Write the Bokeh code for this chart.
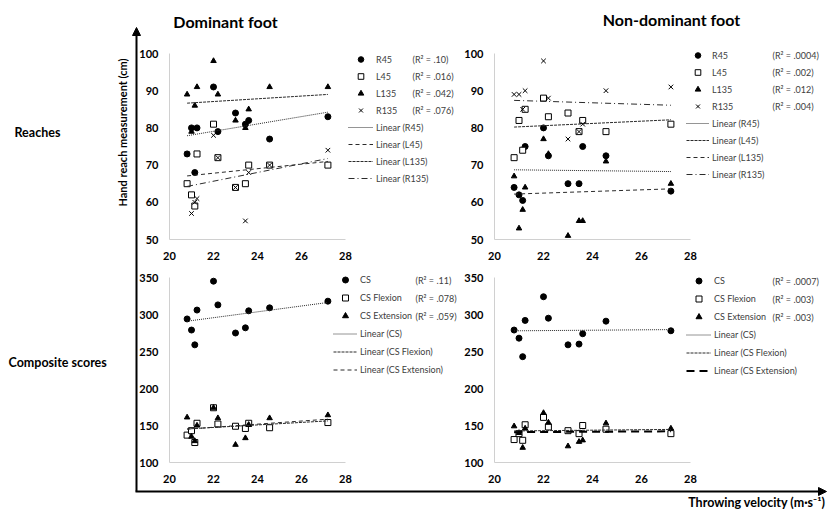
import numpy as np
from bokeh.plotting import figure
from bokeh.models import Range1d, Legend, LegendItem, Arrow, NormalHead, Label
from bokeh.core.properties import value
from bokeh.embed import file_html
from bokeh.resources import INLINE

# ---------------- data ----------------
velocity = [20.8, 21.0, 21.15, 21.25, 22.0, 22.2, 23.0, 23.45, 23.6, 24.55, 27.2]

dom_R45 = [73, 80, 68, 80, 91, 79, 84, 81, 82, 77, 83]
dom_L45 = [65, 62, 59, 73, 81, 72, 64, 65, 70, 70, 70]
dom_L135 = [89, 79, 86, 91, 98, 89, 82, 80, 85, 91, 91]
dom_R135 = [73, 57, 60, 61, 78, 72, 64, 55, 68, 70, 74]

nd_R45 = [64, 62, 60.5, 75, 80, 72.5, 65, 65, 75, 72.5, 63]
nd_L45 = [72, 82, 74, 85, 88, 83, 84, 79, 82, 79, 81]
nd_L135 = [67, 53, 58, 64, 77, 73, 51, 55, 55, 71, 65]
nd_R135 = [89, 89, 85, 90, 98, 88, 77, 79, 81, 90, 91]

dom_CS = [294, 279, 259, 306, 345, 313, 275, 282, 305, 309, 318]
dom_CSF = [137, 143, 127, 153, 174, 152, 149, 146, 153, 147, 154]
dom_CSE = [161, 135, 129, 150, 174, 160, 124, 133, 151, 160, 164]

nd_CS = [279, 268, 243, 292, 324, 295, 259, 260, 274, 291, 278]
nd_CSF = [131, 139, 130, 151, 161, 148, 143, 139, 150, 145, 139]
nd_CSE = [149, 140, 120, 146, 167, 154, 122, 128, 130, 153, 146]

reach_ticks = [50, 60, 70, 80, 90, 100]
cs_ticks = [100, 150, 200, 250, 300, 350]
vel_ticks = [20, 22, 24, 26, 28]

r2_dom_reach = ["(R\u00b2 = .10)", "(R\u00b2 = .016)", "(R\u00b2 = .042)", "(R\u00b2 = .076)"]
r2_nd_reach = ["(R\u00b2 = .0004)", "(R\u00b2 = .002)", "(R\u00b2 = .012)", "(R\u00b2 = .004)"]
r2_dom_cs = ["(R\u00b2 = .11)", "(R\u00b2 = .078)", "(R\u00b2 = .059)"]
r2_nd_cs = ["(R\u00b2 = .0007)", "(R\u00b2 = .003)", "(R\u00b2 = .003)"]

# ---------------- figure ----------------
FONT = "Lato"
W, H = 828, 510
p = figure(width=W, height=H, x_range=Range1d(0, W), y_range=Range1d(H, 0),
           output_backend="svg", toolbar_location=None, min_border=0,
           x_axis_type=None, y_axis_type=None)
p.outline_line_color = None
p.grid.visible = False

MARK = {
    "circle": dict(marker="circle", size=6, fill_color="black", line_color="black"),
    "square": dict(marker="square", size=6, fill_color="white", line_color="black", line_width=1),
    "triangle": dict(marker="triangle", size=5.5, fill_color="black", line_color="black"),
    "x": dict(marker="x", size=6.5, line_color="black", line_width=1),
}


def make_panel(px0, px1, py_bottom, py_top, yticks):
    sub = p.subplot(x_source=Range1d(vel_ticks[0], vel_ticks[-1]),
                    y_source=Range1d(yticks[0], yticks[-1]),
                    x_target=Range1d(px0, px1), y_target=Range1d(py_bottom, py_top))
    sub.line(x=[vel_ticks[0], vel_ticks[0], vel_ticks[-1]],
             y=[yticks[-1], yticks[0], yticks[0]], line_color="#d0d0d0", line_width=1)
    sub.text(x=[vel_ticks[0]] * len(yticks), y=yticks, text=[str(t) for t in yticks],
             x_offset=-11, text_align="right", text_baseline="middle",
             text_font=value(FONT), text_font_style="bold", text_font_size="11px",
             text_color="black")
    sub.text(x=vel_ticks, y=[yticks[0]] * len(vel_ticks), text=[str(t) for t in vel_ticks],
             y_offset=16, text_align="center", text_baseline="middle",
             text_font=value(FONT), text_font_style="bold", text_font_size="11px",
             text_color="black")
    return sub


def trend(sub, y, dash, width=1, color="#2b2b2b"):
    k, b = np.polyfit(velocity, y, 1)
    xs = [min(velocity), max(velocity)]
    return sub.line(x=xs, y=[k * x + b for x in xs], line_dash=dash,
                    line_width=width, line_color=color)


def add_legend(items, lx, top, pitch, gw):
    gh = pitch - 3
    n = len(items)
    height = n * gh + (n - 1) * 3
    bottom = top + height
    leg = Legend(items=[LegendItem(label=l, renderers=[r]) for l, r in items],
                 location=(lx, H - bottom), orientation="vertical",
                 glyph_width=gw, glyph_height=gh, label_height=gh, spacing=3,
                 padding=0, margin=0, label_standoff=3,
                 border_line_color=None, background_fill_alpha=0,
                 label_text_font=FONT, label_text_font_size="9px",
                 label_text_color="#404040")
    p.add_layout(leg)


def add_r2(texts, x, y0, pitch):
    p.text(x=[x] * len(texts), y=[y0 + i * pitch for i in range(len(texts))], text=texts,
           text_align="left", text_baseline="middle", text_font=value(FONT),
           text_font_size="9px", text_color="#404040")


# ---- top-left: dominant reaches
tl = make_panel(169, 345, 239, 53, reach_ticks)
r1 = tl.scatter(velocity, dom_R45, **MARK["circle"])
r2 = tl.scatter(velocity, dom_L45, **MARK["square"])
r3 = tl.scatter(velocity, dom_L135, **MARK["triangle"])
r4 = tl.scatter(velocity, dom_R135, **MARK["x"])
t1 = trend(tl, dom_R45, "1 1")
t2 = trend(tl, dom_L45, "4 3")
t3 = trend(tl, dom_L135, "3 1")
t4 = trend(tl, dom_R135, "6 3 1 3")
add_legend([("R45", r1), ("L45", r2), ("L135", r3), ("R135", r4),
            ("Linear (R45)", t1), ("Linear (L45)", t2), ("Linear (L135)", t3),
            ("Linear (R135)", t4)], 348, 52, 17, 25)
add_r2(r2_dom_reach, 412, 59, 17)

# ---- top-right: non-dominant reaches
tr = make_panel(494, 690, 239, 53, reach_ticks)
s1 = tr.scatter(velocity, nd_R45, **MARK["circle"])
s2 = tr.scatter(velocity, nd_L45, **MARK["square"])
s3 = tr.scatter(velocity, nd_L135, **MARK["triangle"])
s4 = tr.scatter(velocity, nd_R135, **MARK["x"])
u1 = trend(tr, nd_R45, "1 1")
u2 = trend(tr, nd_L45, "3 1")
u3 = trend(tr, nd_L135, "4 3")
u4 = trend(tr, nd_R135, "6 3 1 3")
add_legend([("R45", s1), ("L45", s2), ("L135", s3), ("R135", s4),
            ("Linear (R45)", u1), ("Linear (L45)", u2), ("Linear (L135)", u3),
            ("Linear (R135)", u4)], 686, 48, 17, 23)
add_r2(r2_nd_reach, 772, 55, 17)

# ---- bottom-left: dominant composite scores
bl = make_panel(169, 345, 462, 277, cs_ticks)
c1 = bl.scatter(velocity, dom_CS, **MARK["circle"])
c2 = bl.scatter(velocity, dom_CSF, **MARK["square"])
c3 = bl.scatter(velocity, dom_CSE, **MARK["triangle"])
v1 = trend(bl, dom_CS, "1 1")
v2 = trend(bl, dom_CSF, "3 1")
v3 = trend(bl, dom_CSE, "4 3")
add_legend([("CS", c1), ("CS Flexion", c2), ("CS Extension", c3),
            ("Linear (CS)", v1), ("Linear (CS Flexion)", v2),
            ("Linear (CS Extension)", v3)], 333, 272, 18, 24)
add_r2(r2_dom_cs, 415, 280, 18)

# ---- bottom-right: non-dominant composite scores
br = make_panel(494, 690, 462, 277, cs_ticks)
d1 = br.scatter(velocity, nd_CS, **MARK["circle"])
d2 = br.scatter(velocity, nd_CSF, **MARK["square"])
d3 = br.scatter(velocity, nd_CSE, **MARK["triangle"])
w1 = trend(br, nd_CS, "1 1")
w2 = trend(br, nd_CSF, "3 1")
w3 = trend(br, nd_CSE, "8 5", width=2, color="black")
add_legend([("CS", d1), ("CS Flexion", d2), ("CS Extension", d3),
            ("Linear (CS)", w1), ("Linear (CS Flexion)", w2),
            ("Linear (CS Extension)", w3)], 686, 273, 18, 25)
add_r2(r2_nd_cs, 772, 281, 18)

# ---- big axes with arrows
p.add_layout(Arrow(end=NormalHead(size=8, fill_color="black", line_color="black"),
                   x_start=136, y_start=491, x_end=136, y_end=27,
                   line_width=2, line_color="black"))
p.add_layout(Arrow(end=NormalHead(size=8, fill_color="black", line_color="black"),
                   x_start=135, y_start=491, x_end=826, y_end=491,
                   line_width=2, line_color="black"))

# ---- titles and labels
def lab(x, y, text, size, align="center", angle=0):
    p.add_layout(Label(x=x, y=y, text=text, text_font=FONT, text_font_style="bold",
                       text_font_size=size, text_align=align, text_baseline="middle",
                       text_color="black", angle=angle, angle_units="deg"))

lab(225, 21, "Dominant foot", "16px")
lab(671, 19, "Non-dominant foot", "16px")
lab(14, 132, "Reaches", "12.5px", align="left")
lab(8, 362, "Composite scores", "12.5px", align="left")
lab(122, 132, "Hand reach measurement (cm)", "11px", angle=90)
lab(825, 502, "Throwing velocity (m\u00b7s\u207b\u00b9)", "12.5px", align="right")

open("out.html", "w").write(file_html(p, INLINE))
